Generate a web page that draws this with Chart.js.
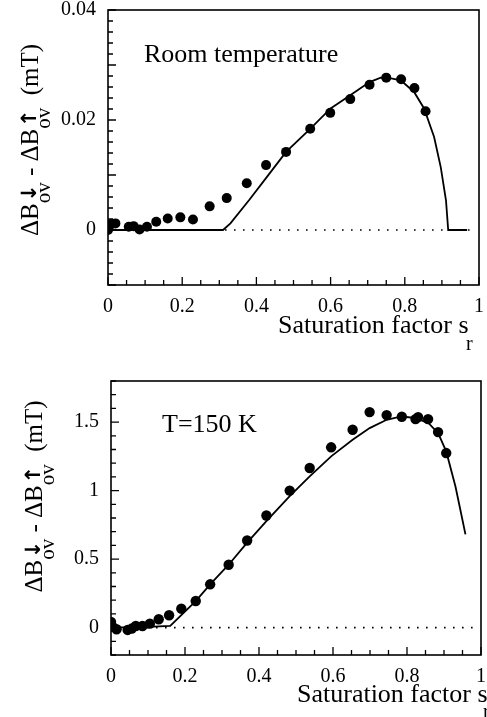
<!DOCTYPE html>
<html><head><meta charset="utf-8">
<script src="https://cdn.jsdelivr.net/npm/chart.js@4.4.0/dist/chart.umd.min.js"></script>
<style>
html,body{margin:0;padding:0;background:#fff;}
#wrap{position:relative;width:487px;height:717px;overflow:hidden;background:#fff;}
canvas{position:absolute;left:0;}
#c1{top:0;width:487px;height:352px;}
#c2{top:340px;width:487px;height:377px;}
</style></head><body>
<div id="wrap"><canvas id="c1" width="487" height="352"></canvas><canvas id="c2" width="487" height="377"></canvas></div>
<script>
// ---------- data: top panel (room temperature) ----------
const topPtsX = [0, 0.002, 0.008, 0.02, 0.056, 0.069, 0.085, 0.105, 0.13, 0.161, 0.195, 0.229, 0.274, 0.32, 0.374, 0.426, 0.48, 0.545, 0.599, 0.653, 0.705, 0.75, 0.79, 0.826, 0.856];
const topPtsY = [0.0000, 0.0004, 0.0011, 0.0012, 0.0006, 0.0007, 0.0001, 0.0006, 0.0015, 0.0021, 0.0023, 0.0019, 0.0043, 0.0058, 0.0085, 0.0118, 0.0142, 0.0184, 0.0213, 0.0238, 0.0264, 0.0277, 0.0274, 0.0258, 0.0216];
const topFitX = [0, 0.31, 0.33, 0.38, 0.43, 0.48, 0.545, 0.6, 0.646, 0.705, 0.735, 0.76, 0.789, 0.825, 0.852, 0.879, 0.897, 0.911, 0.917, 0.968];
const topFitY = [0, 0, 0.0012, 0.0054, 0.0098, 0.0142, 0.0184, 0.0221, 0.0242, 0.0269, 0.0277, 0.0276, 0.0272, 0.0251, 0.0221, 0.0169, 0.0114, 0.0054, 0, 0];
const topXTicks = [0, 0.2, 0.4, 0.6, 0.8, 1];
const topYTicks = [0, 0.02, 0.04];

// ---------- data: bottom panel (T = 150 K) ----------
const botPtsX = [0, 0.004, 0.015, 0.045, 0.056, 0.067, 0.085, 0.105, 0.129, 0.157, 0.19, 0.229, 0.268, 0.318, 0.368, 0.42, 0.483, 0.537, 0.595, 0.653, 0.699, 0.745, 0.786, 0.823, 0.83, 0.857, 0.884, 0.906];
const botPtsY = [0.041, 0.007, -0.012, -0.017, -0.007, 0.012, 0.012, 0.029, 0.061, 0.09, 0.138, 0.194, 0.316, 0.459, 0.636, 0.818, 1.0, 1.165, 1.316, 1.444, 1.573, 1.551, 1.539, 1.522, 1.536, 1.522, 1.427, 1.274];
const botFitX = [0, 0.1, 0.16, 0.229, 0.268, 0.318, 0.368, 0.42, 0.483, 0.537, 0.595, 0.653, 0.699, 0.745, 0.785, 0.823, 0.859, 0.884, 0.906, 0.931, 0.944, 0.958];
const botFitY = [0, 0.005, 0.012, 0.194, 0.316, 0.459, 0.62, 0.777, 0.959, 1.104, 1.25, 1.371, 1.456, 1.517, 1.541, 1.53, 1.49, 1.42, 1.286, 1.03, 0.862, 0.68];
const botXTicks = [0, 0.2, 0.4, 0.6, 0.8, 1];
const botYTicks = [0, 0.5, 1, 1.5];

const zeroLineX = [0, 0.99];
const zeroLineY = [0, 0];

const SERIF = "'Liberation Serif','Times New Roman',serif";

function pairs(xs, ys){ return xs.map((x,i)=>({x:x, y:ys[i]})); }
function range(a, b, step){ const out=[]; const n=Math.round((b-a)/step); for(let i=0;i<=n;i++) out.push(+(a+i*step).toFixed(6)); return out; }

function drawYTitle(ctx, baseX, centerY){
  const mainF = "25px " + SERIF, subF = "21px " + SERIF, arrF = "bold 21px 'DejaVu Sans'";
  ctx.save();
  ctx.translate(baseX, centerY);
  ctx.rotate(-Math.PI/2);
  ctx.fillStyle = '#000';
  ctx.textBaseline = 'alphabetic';
  ctx.textAlign = 'left';
  const parts = [
    {t:'\u0394B', f:mainF},
    {sub:'ov', arrow:'\u2193'},
    {t:' - \u0394B', f:mainF},
    {sub:'ov', arrow:'\u2191'},
    {t:'  (mT)', f:mainF}
  ];
  let total = 0;
  parts.forEach(p=>{
    if(p.t){ ctx.font = p.f; p.w = ctx.measureText(p.t).width; }
    else { ctx.font = subF; const w1 = ctx.measureText(p.sub).width; ctx.font = arrF; const w2 = ctx.measureText(p.arrow).width; p.w = Math.max(w1,w2); p.w1=w1; p.w2=w2; }
    total += p.w;
  });
  let x = -total/2;
  parts.forEach(p=>{
    if(p.t){ ctx.font = p.f; ctx.fillText(p.t, x, 0); }
    else {
      ctx.font = subF; ctx.fillText(p.sub, x + (p.w - p.w1)/2, 12);
      ctx.font = arrF; ctx.fillText(p.arrow, x + (p.w - p.w2)/2, -2);
    }
    x += p.w;
  });
  ctx.restore();
}

function makeDecor(o){
  return {
    id: 'decor_' + o.id,
    afterDraw(chart){
      const ctx = chart.ctx, a = chart.chartArea;
      const xs = chart.scales.x, ys = chart.scales.y;
      ctx.save();
      ctx.strokeStyle = '#000';
      ctx.lineWidth = 1.6;
      ctx.strokeRect(a.left, a.top, a.right - a.left, a.bottom - a.top);
      // inward ticks
      ctx.lineWidth = 1.3;
      ctx.beginPath();
      o.xMinor.forEach(v=>{ const px = xs.getPixelForValue(v); const len = o.xMajor.some(m=>Math.abs(m-v)<1e-9) ? 8 : 5; ctx.moveTo(px, a.bottom); ctx.lineTo(px, a.bottom - len); });
      o.yMinor.forEach(v=>{ const py = ys.getPixelForValue(v); const len = o.yMajor.some(m=>Math.abs(m-v)<1e-9) ? 8 : 5; ctx.moveTo(a.left, py); ctx.lineTo(a.left + len, py); });
      ctx.stroke();
      // in-plot label
      ctx.fillStyle = '#000';
      ctx.font = "26px " + SERIF;
      ctx.textAlign = 'left'; ctx.textBaseline = 'alphabetic';
      ctx.fillText(o.label, a.left + o.labelDX, a.top + o.labelDY);
      // x title
      ctx.font = "26px " + SERIF;
      ctx.fillText('Saturation factor s', o.xtX, o.xtY);
      ctx.font = "20px " + SERIF;
      ctx.fillText('r', o.rX, o.rY);
      drawYTitle(ctx, o.ytX, o.ytY);
      ctx.restore();
    }
  };
}

function build(o){
  const el = document.getElementById(o.id);
  return new Chart(el, {
    type: 'scatter',
    data: { datasets: [
      {data: pairs(zeroLineX, zeroLineY), showLine:true, borderColor:'#000', borderWidth:1.6, borderDash:[1.6,7.4], pointRadius:0, order:3},
      {data: o.fit, showLine:true, borderColor:'#000', borderWidth:1.8, pointRadius:0, tension:0, order:2},
      {data: o.pts, showLine:false, pointRadius:o.r, pointHoverRadius:o.r, backgroundColor:'#000', borderColor:'#000', borderWidth:0, order:1}
    ]},
    options: {
      responsive:false, animation:false, devicePixelRatio:1,
      layout:{padding:{left:0, top:o.padTop, right:o.padRight, bottom:0}},
      plugins:{legend:{display:false}, tooltip:{enabled:false}},
      scales:{
        x:{type:'linear', min:0, max:1,
          grid:{display:false, drawTicks:false}, border:{display:false},
          afterBuildTicks: s=>{ s.ticks = o.xTicks.map(v=>({value:v})); },
          afterFit: s=>{ s.height = o.xH; s.paddingLeft = 0; s.paddingRight = 0; s.paddingTop = 0; s.paddingBottom = 0; },
          ticks:{padding:o.xPad, color:'#000', font:{family:SERIF, size:20, lineHeight:1}, maxRotation:0, autoSkip:false, callback:v=>String(v)}
        },
        y:{type:'linear', min:o.yMin, max:o.yMax,
          grid:{display:false, drawTicks:false}, border:{display:false},
          afterBuildTicks: s=>{ s.ticks = o.yTicks.map(v=>({value:v})); },
          afterFit: s=>{ s.width = o.yW; s.paddingLeft = 0; s.paddingRight = 0; s.paddingTop = 0; s.paddingBottom = 0; },
          ticks:{padding:12, color:'#000', font:{family:SERIF, size:20, lineHeight:1}, autoSkip:false, callback:v=>String(v)}
        }
      }
    },
    plugins:[makeDecor(o)]
  });
}

build({
  id:'c1', pts:pairs(topPtsX, topPtsY), fit:pairs(topFitX, topFitY), r:5,
  xTicks:topXTicks, yTicks:topYTicks, yMin:-0.01, yMax:0.04,
  padTop:10, padRight:8, xH:67, yW:108, xPad:12,
  xMinor:range(0,1,0.05), xMajor:topXTicks,
  yMinor:range(-0.01,0.04,0.002), yMajor:range(-0.01,0.04,0.01),
  label:'Room temperature', labelDX:36, labelDY:52,
  xtX:278, xtY:333, rX:466, rY:350,
  ytX:38, ytY:140
});

build({
  id:'c2', pts:pairs(botPtsX, botPtsY), fit:pairs(botFitX, botFitY), r:5.2,
  xTicks:botXTicks, yTicks:botYTicks, yMin:-0.2, yMax:1.8,
  padTop:41, padRight:6, xH:62, yW:111, xPad:12,
  xMinor:range(0,1,0.05), xMajor:botXTicks,
  yMinor:range(-0.2,1.8,0.1), yMajor:range(-0.0,1.5,0.5),
  label:'T=150 K', labelDX:51, labelDY:51,
  xtX:297, xtY:362, rX:483, rY:378,
  ytX:41.5, ytY:156.5
});
</script>
</body></html>
